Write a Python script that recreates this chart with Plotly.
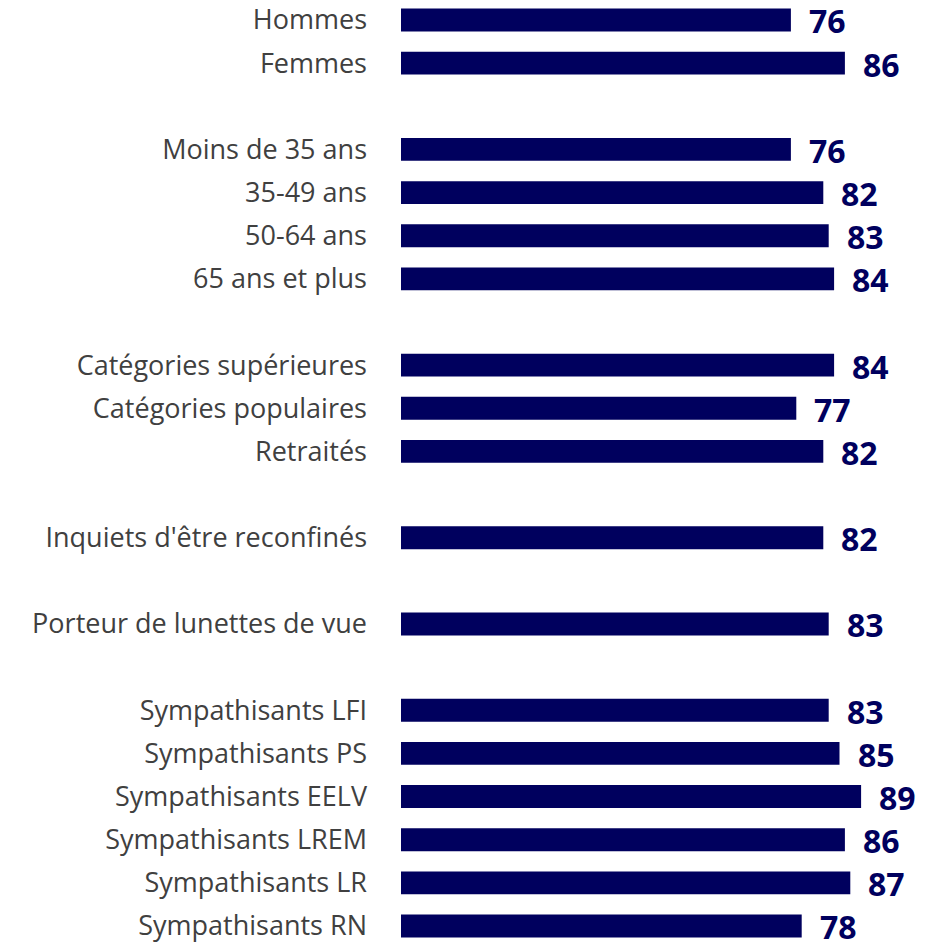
import plotly.graph_objects as go

NAVY = "#00005e"
LABEL_GREY = "#404040"

# groups of categories, separated by a blank row
groupes = [
    ["Hommes", "Femmes"],
    ["Moins de 35 ans", "35-49 ans", "50-64 ans", "65 ans et plus"],
    ["Catégories supérieures", "Catégories populaires", "Retraités"],
    ["Inquiets d'être reconfinés"],
    ["Porteur de lunettes de vue"],
    ["Sympathisants LFI", "Sympathisants PS", "Sympathisants EELV",
     "Sympathisants LREM", "Sympathisants LR", "Sympathisants RN"],
]
valeurs = [
    [76, 86],
    [76, 82, 83, 84],
    [84, 77, 82],
    [82],
    [83],
    [83, 85, 89, 86, 87, 78],
]

labels, vals, pos = [], [], []
p = 0
for g, v in zip(groupes, valeurs):
    for lab, val in zip(g, v):
        labels.append(lab)
        vals.append(val)
        pos.append(p)
        p += 1
    p += 1  # ligne vide entre les groupes

fig = go.Figure(go.Bar(
    x=vals,
    y=pos,
    orientation="h",
    width=0.53,
    marker=dict(color=NAVY, line=dict(width=0)),
    hoverinfo="skip",
))

for v, y in zip(vals, pos):
    fig.add_annotation(
        x=v, y=y, text=str(v), showarrow=False,
        xanchor="left", yanchor="middle", xshift=16, yshift=-1,
        font=dict(family="Open Sans", size=32, color=NAVY, weight="bold"),
    )

fig.update_layout(
    width=930, height=943,
    margin=dict(l=393, r=0, t=0, b=0, autoexpand=False),
    plot_bgcolor="white", paper_bgcolor="white",
    showlegend=False,
    font=dict(family="Open Sans", size=27, color=LABEL_GREY),
)
fig.update_xaxes(range=[3.8, 103.24], visible=False, showgrid=False,
                 zeroline=False, automargin=False)
fig.update_yaxes(
    range=[21.58, -0.278],
    tickvals=pos, ticktext=labels,
    showgrid=False, zeroline=False, showline=False, automargin=False,
    ticks="", ticklabelstandoff=33, ticklabeloverflow="allow",
    tickfont=dict(family="Open Sans", size=27, color=LABEL_GREY),
)

fig.write_html("out.html")
